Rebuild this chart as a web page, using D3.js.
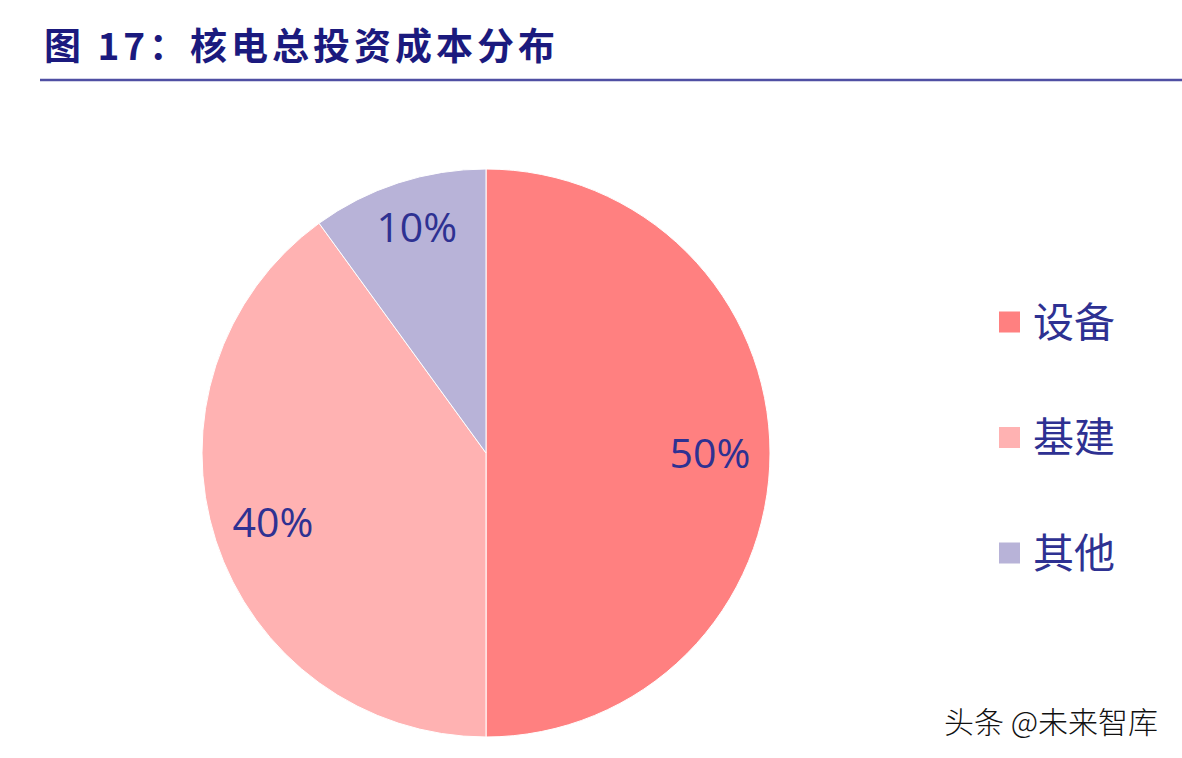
<!DOCTYPE html>
<html>
<head>
<meta charset="utf-8">
<script src="https://cdn.jsdelivr.net/npm/d3@7"></script>
<style>
  body { margin: 0; background: #fff; }
  svg { display: block; }
</style>
</head>
<body>
<div class="container"></div>
<script>
// 核电总投资成本分布
const categories = ["设备", "基建", "其他"];
const values = [50, 40, 10];
const colors = ["#FF8080", "#FFB2B2", "#B8B3D8"];

const width = 1182;
const height = 758;
const cx = 486, cy = 453, radius = 284;

let svg = d3.select(".container")
    .append("svg")
    .attr("width", width)
    .attr("height", height)
    .attr("viewBox", [0, 0, width, height]);

// title
svg.append("text")
    .attr("x", 44)
    .attr("y", 60)
    .attr("font-family", "'Noto Sans CJK SC', sans-serif")
    .attr("font-weight", "bold")
    .attr("font-size", 37)
    .attr("letter-spacing", 4)
    .attr("fill", "#1B1A7E")
    .text("图 17：核电总投资成本分布");

svg.append("line")
    .attr("x1", 40).attr("x2", width)
    .attr("y1", 80).attr("y2", 80)
    .attr("stroke", "#4F4FA3")
    .attr("stroke-width", 2.5);

let color = d3.scaleOrdinal().domain(categories).range(colors);

let pie = d3.pie().sort(null).value(d => d.value);
let data = categories.map((c, i) => ({ name: c, value: values[i] }));
let arcs = pie(data);

let arc = d3.arc().innerRadius(0).outerRadius(radius);
let labelArc = d3.arc().innerRadius(224).outerRadius(224);

let g = svg.append("g").attr("transform", `translate(${cx},${cy})`);

g.selectAll("path")
    .data(arcs)
    .enter()
    .append("path")
    .attr("d", arc)
    .attr("fill", d => color(d.data.name))
    .attr("stroke", "#fff")
    .attr("stroke-width", 1);

g.selectAll("text.label")
    .data(arcs)
    .enter()
    .append("text")
    .attr("class", "label")
    .attr("transform", d => `translate(${labelArc.centroid(d)})`)
    .attr("text-anchor", "middle")
    .attr("dy", d => d.data.value === 10 ? "0.05em" : "0.36em")
    .attr("font-family", "'Open Sans', sans-serif")
    .attr("font-size", 41)
    .attr("fill", "#2E3192")
    .text(d => d.data.value + "%");

// legend
let legendY = d3.scalePoint().domain(categories).range([322, 553]);

let legend = svg.append("g").attr("id", "legend");

legend.selectAll("rect")
    .data(categories)
    .enter()
    .append("rect")
    .attr("x", 999)
    .attr("y", d => legendY(d) - 10.5)
    .attr("width", 21)
    .attr("height", 21)
    .attr("fill", d => color(d));

legend.selectAll("text")
    .data(categories)
    .enter()
    .append("text")
    .attr("x", 1033)
    .attr("y", d => legendY(d))
    .attr("dy", "0.36em")
    .attr("font-family", "'Noto Sans CJK SC', sans-serif")
    .attr("font-size", 41)
    .attr("fill", "#2E3192")
    .text(d => d);

// watermark
svg.append("text")
    .attr("x", 944)
    .attr("y", 733)
    .attr("font-family", "'Noto Sans CJK SC', sans-serif")
    .attr("font-weight", 300)
    .attr("font-size", 30)
    .attr("fill", "#111")
    .text("头条 @未来智库");
</script>
</body>
</html>
